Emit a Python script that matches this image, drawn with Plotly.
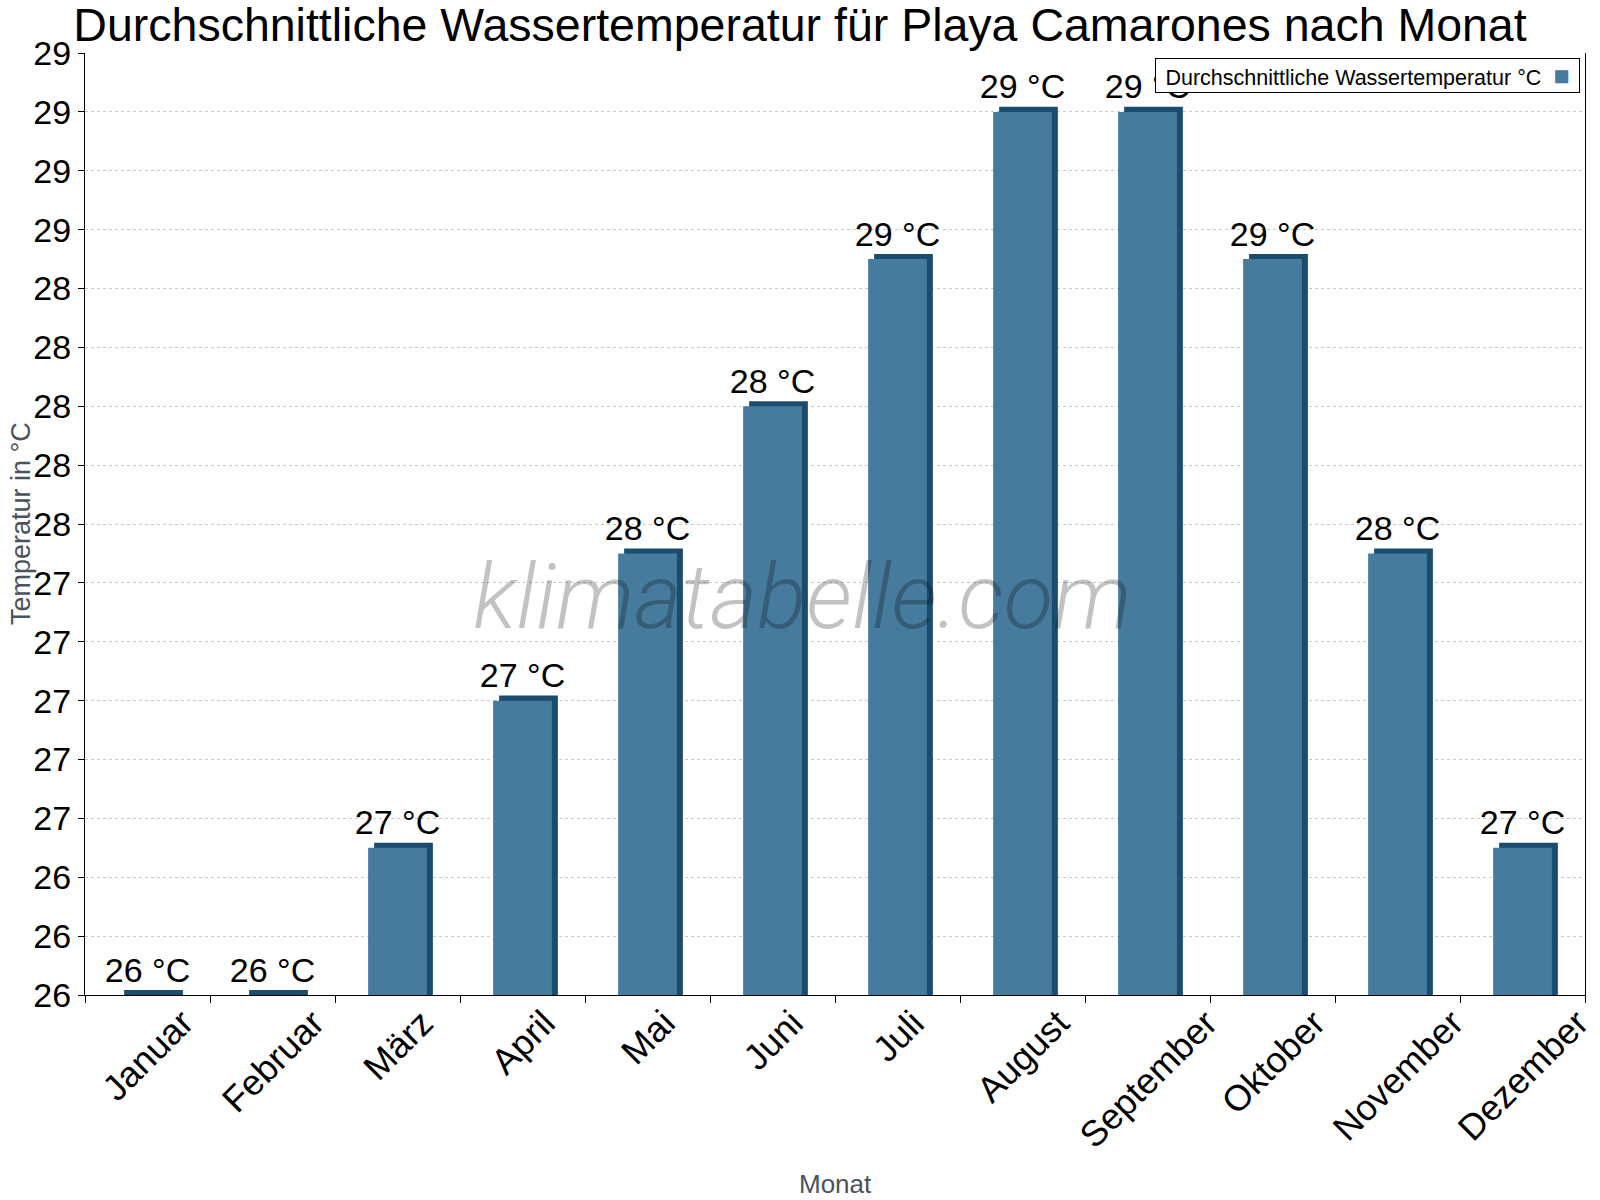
import plotly.graph_objects as go

months = ["Januar", "Februar", "März", "April", "Mai", "Juni", "Juli",
          "August", "September", "Oktober", "November", "Dezember"]
water_temp = [26.0, 26.0, 26.5, 27.0, 27.5, 28.0, 28.5, 29.0, 29.0, 28.5, 27.5, 26.5]
bar_labels = ["26 °C", "26 °C", "27 °C", "27 °C", "28 °C", "28 °C", "29 °C",
              "29 °C", "29 °C", "29 °C", "28 °C", "27 °C"]
y_tick_vals = [26.0, 26.2, 26.4, 26.6, 26.8, 27.0, 27.2, 27.4, 27.6, 27.8,
               28.0, 28.2, 28.4, 28.6, 28.8, 29.0, 29.2]
y_tick_text = ["26", "26", "26", "27", "27", "27", "27", "27", "28", "28",
               "28", "28", "28", "29", "29", "29", "29"]

FRONT = "#467b9d"
DARK = "#1a4c6e"
DEPTH_Y = 0.017      # depth of the 3D cap in data units
BAR_W = 0.47
SHIFT = 0.048        # side-face shift in category units
PLOT_H = 942         # plot area height in px (for paper offsets)

fig = go.Figure()

# dark "3D" body (side + top)
fig.add_trace(go.Bar(
    x=months, y=[v + DEPTH_Y - 26 for v in water_temp], base=26,
    width=BAR_W, offset=-BAR_W / 2 + SHIFT,
    marker=dict(color=DARK, line=dict(width=0)),
    showlegend=False, hoverinfo="skip",
))
# front face
fig.add_trace(go.Bar(
    x=months, y=[v - 26 for v in water_temp], base=26,
    width=BAR_W, offset=-BAR_W / 2,
    marker=dict(color=FRONT, line=dict(width=0)),
    name="Durchschnittliche Wassertemperatur °C",
    showlegend=False,
))
# value labels
fig.add_trace(go.Scatter(
    x=months, y=[v + DEPTH_Y for v in water_temp], mode="text",
    text=bar_labels, textposition="top center",
    textfont=dict(family="Liberation Sans, Arial", size=34, color="black"),
    showlegend=False, hoverinfo="skip", cliponaxis=False,
))

fig.update_layout(
    width=1600, height=1200,
    barmode="overlay",
    plot_bgcolor="white", paper_bgcolor="white",
    margin=dict(l=85, r=15, t=53, b=205, autoexpand=False),
    font=dict(family="Liberation Sans, Arial", color="black"),
    title=dict(text="Durchschnittliche Wassertemperatur für Playa Camarones nach Monat",
               x=0.5, xanchor="center", y=1 - 25 / 1200, yanchor="middle",
               font=dict(size=46.5, color="black")),
    showlegend=False,
)

fig.update_xaxes(
    type="category", categoryorder="array", categoryarray=months,
    range=[-0.5, 11.5], autorange=False,
    showline=True, linecolor="black", linewidth=1,
    ticks="outside", ticklen=7, tickcolor="black", tickson="boundaries",
    showticklabels=False, showgrid=False,
)
fig.update_yaxes(
    range=[26, 29.2], tickmode="array", tickvals=y_tick_vals, ticktext=y_tick_text,
    showline=True, linecolor="black", linewidth=1, mirror=True,
    ticks="outside", ticklen=6, tickcolor="black",
    tickfont=dict(size=34, color="black"),
    showgrid=True, gridcolor="#c8c8c8", griddash="dot", gridwidth=1,
    zeroline=False,
)

# rotated month labels, centred under each category (bounding box centred)
for m in months:
    fig.add_annotation(
        x=m, xref="x", y=0, yref="paper", yshift=-6,
        text=m, textangle=-45, xanchor="center", yanchor="top",
        showarrow=False, font=dict(size=36, color="black"), borderpad=0,
    )

# axis titles
fig.add_annotation(
    text="Monat", xref="paper", yref="paper", x=0.5, y=-(1184 - 995) / PLOT_H,
    xanchor="center", yanchor="middle", showarrow=False,
    font=dict(size=26, color="#4a535c"),
)
fig.add_annotation(
    text="Temperatur in °C", xref="paper", yref="paper", x=(21 - 85) / 1500, y=0.5,
    xanchor="center", yanchor="middle", textangle=-90, showarrow=False,
    font=dict(size=27, color="#4a535c"),
)

# watermark
fig.add_annotation(
    text="klimatabelle.com", xref="paper", yref="paper", x=0.478, y=0.4225,
    xanchor="center", yanchor="middle", showarrow=False,
    font=dict(family="Roboto", size=91, color="rgba(0,0,0,0.24)", style="italic", weight=300),
)

# legend box (text then swatch, as in the reference)
fig.add_annotation(
    text="Durchschnittliche Wassertemperatur °C\u00a0\u00a0<span style='color:" + FRONT + ";font-size:27px'>■</span>",
    xref="paper", yref="paper", x=0.9967, y=0.9947, xanchor="right", yanchor="top",
    width=417, height=27, align="center", valign="middle",
    showarrow=False, bordercolor="black", borderwidth=1, borderpad=3, bgcolor="white",
    font=dict(size=21.5, color="black"),
)

fig.write_html("out.html")
